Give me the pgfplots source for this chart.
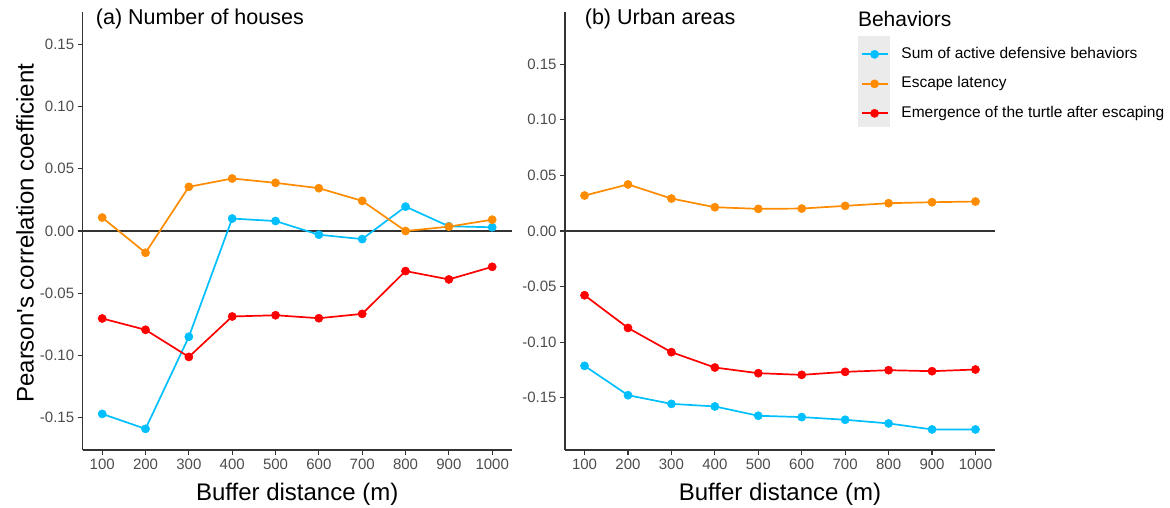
\documentclass[border=0pt]{standalone}
\usepackage{pgfplots}
\pgfplotsset{compat=1.18}
\usepackage{fontspec}
\setmainfont{Liberation Sans}
\definecolor{cblue}{HTML}{00BFFF}
\definecolor{corange}{HTML}{FF8C00}
\definecolor{cred}{HTML}{FF0000}
\definecolor{tickgrey}{HTML}{4D4D4D}
\definecolor{keygrey}{HTML}{EBEBEB}
\definecolor{axisgrey}{HTML}{333333}

\pgfplotsset{
 panel/.style={
  scale only axis, anchor=south west, height=438pt,
  xmin=55, xmax=1045,
  axis x line*=bottom, axis y line*=left,
  axis line style={-, line width=1.2pt, axisgrey},
  tick align=outside, major tick length=5pt,
  major tick style={line width=1.2pt, axisgrey},
  xtick={100,200,300,400,500,600,700,800,900,1000},
  ytick={-0.15,-0.10,-0.05,0,0.05,0.10,0.15},
  ticklabel style={font=\fontsize{15}{18}\selectfont, text=tickgrey},
  /pgf/number format/assume math mode=true,
  /pgf/number format/1000 sep={},
  yticklabel style={/pgf/number format/fixed, /pgf/number format/fixed zerofill, /pgf/number format/precision=2},
  label style={font=\fontsize{24}{28}\selectfont},
  xlabel={Buffer distance (m)},
  xlabel style={at={(axis description cs:0.5,-0.1)}, anchor=center},
  clip=false,
  every axis plot/.append style={line width=1.7pt, mark=*, mark size=4.1pt, mark options={line width=0.5pt}},
 }
}

\begin{document}
\begin{tikzpicture}[x=1pt,y=1pt]
\useasboundingbox (0,0) rectangle (1170,507);
\fill[keygrey] (858,380) rectangle (890,471);
\node[anchor=west, font=\fontsize{21}{24}\selectfont] at (854.5,488.2) {Behaviors};

\begin{axis}[panel, at={(82.7pt,57pt)}, width=429pt,
  ymin=-0.176, ymax=0.176,
  ylabel={Pearson\textquotesingle s correlation coefficient},
  ylabel style={at={(axis description cs:-0.1345,0.495)}, anchor=center}]
\draw[line width=1.4pt, axisgrey] (axis cs:55,0) -- (axis cs:1045,0);
\addplot[cblue] coordinates {(100,-0.147)(200,-0.159)(300,-0.085)(400,0.010)(500,0.008)(600,-0.003)(700,-0.0065)(800,0.0196)(900,0.0038)(1000,0.003)};
\addplot[corange] coordinates {(100,0.0108)(200,-0.0175)(300,0.0355)(400,0.0422)(500,0.0387)(600,0.0344)(700,0.0242)(800,0.0)(900,0.0035)(1000,0.0091)};
\addplot[cred] coordinates {(100,-0.0703)(200,-0.0794)(300,-0.1012)(400,-0.0687)(500,-0.0677)(600,-0.0701)(700,-0.0666)(800,-0.0322)(900,-0.0389)(1000,-0.0288)};
\node[anchor=west, font=\fontsize{21.5}{24}\selectfont] at (axis description cs:0.0225,0.9840) {(a) Number of houses};
\end{axis}

\begin{axis}[panel, at={(565pt,57pt)}, width=430pt,
  ymin=-0.197, ymax=0.197,
  legend style={at={(axis description cs:0.6877,0.937)}, anchor=north west, draw=none, fill=none,
    inner sep=0pt, outer sep=0pt, row sep=0pt, column sep=13pt,
    font=\fontsize{15.5}{18}\selectfont,
    nodes={inner xsep=0pt, inner ysep=0pt, minimum height=29.5pt, text height=11pt, text depth=3pt}},
  legend cell align=left,
  legend image code/.code={\draw[#1, line width=1.7pt, mark repeat=2, mark phase=2] plot coordinates {(0pt,0pt)(13pt,0pt)(26pt,0pt)};}]
\draw[line width=1.4pt, axisgrey] (axis cs:55,0) -- (axis cs:1045,0);
\addplot[cblue] coordinates {(100,-0.1213)(200,-0.1477)(300,-0.1555)(400,-0.1578)(500,-0.1662)(600,-0.1674)(700,-0.1698)(800,-0.1731)(900,-0.1785)(1000,-0.1785)};
\addlegendentry{Sum of active defensive behaviors}
\addplot[corange] coordinates {(100,0.0319)(200,0.0419)(300,0.0292)(400,0.0214)(500,0.0199)(600,0.0202)(700,0.0226)(800,0.025)(900,0.0259)(1000,0.0265)};
\addlegendentry{Escape latency}
\addplot[cred] coordinates {(100,-0.0578)(200,-0.0872)(300,-0.109)(400,-0.1228)(500,-0.1279)(600,-0.1294)(700,-0.1267)(800,-0.1252)(900,-0.1261)(1000,-0.1246)};
\addlegendentry{Emergence of the turtle after escaping}
\node[anchor=west, font=\fontsize{21.5}{24}\selectfont] at (axis description cs:0.0380,0.9840) {(b) Urban areas};
\end{axis}
\end{tikzpicture}
\end{document}
